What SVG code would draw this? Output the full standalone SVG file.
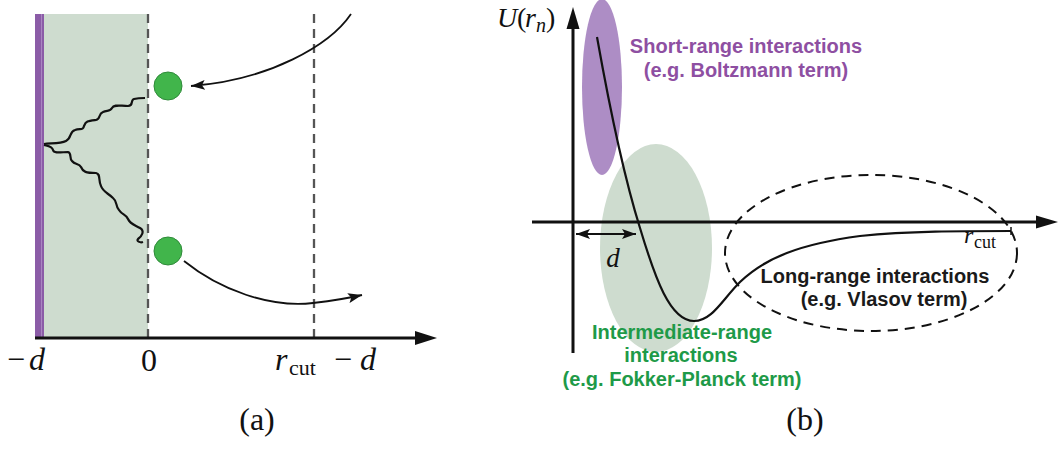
<svg xmlns="http://www.w3.org/2000/svg" width="1064" height="450" viewBox="0 0 1064 450">
<style>
.math{font-family:"Liberation Serif","DejaVu Serif",serif;fill:#111}
.it{font-style:italic}
.lbl{font-family:"Liberation Sans",Arial,sans-serif;font-weight:bold;font-size:20px;text-anchor:middle}
.dash{stroke:#555;stroke-width:2.3;stroke-dasharray:9,6;fill:none}
.ax{stroke:#111;stroke-width:3;fill:none}
.thin{stroke:#111;stroke-width:1.8;fill:none}
.wave{stroke:#111;stroke-width:2.2;fill:none;stroke-linejoin:round}
.ball{fill:#41b54b;stroke:#2f8a3a;stroke-width:1}
</style>
<defs>
<marker id="ah" viewBox="0 0 14 10" refX="14" refY="5" markerWidth="14" markerHeight="10" markerUnits="userSpaceOnUse" orient="auto"><path d="M0,0 L14,5 L0,10 L3,5 Z" fill="#111"/></marker>
<marker id="ahs" viewBox="0 0 14 10" refX="14" refY="5" markerWidth="14" markerHeight="10" markerUnits="userSpaceOnUse" orient="auto-start-reverse"><path d="M0,0 L14,5 L0,10 L3,5 Z" fill="#111"/></marker>
</defs>

<!-- Panel (a) -->
<g id="panel-a">
<g id="region">
<rect x="44" y="14" width="104" height="324" fill="#cedccf"/>
<rect x="35" y="14" width="9" height="324" fill="#8b5ca7"/>
<line x1="41.5" y1="14" x2="41.5" y2="338" stroke="#a985c1" stroke-width="1"/>
</g>
<g id="cutoffs">
<line class="dash" x1="148" y1="14" x2="148" y2="338"/>
<line class="dash" x1="314" y1="14" x2="314" y2="338"/>
</g>
<g id="axis-a">
<line class="ax" x1="35" y1="338" x2="418" y2="338"/>
<path d="M437,338 L415,331 L415,345 Z" fill="#111"/>
</g>
<g id="particle-top"><circle class="ball" cx="168" cy="86" r="14"/></g>
<g id="particle-bottom"><circle class="ball" cx="168" cy="251" r="14"/></g>
<g id="connectors-a">
<path class="thin" d="M351,14 C330,45 270,80 191,86" marker-end="url(#ah)"/>
<path class="thin" d="M184,261 C220,290 270,308 313,303 C330,301 345,299 362,295" marker-end="url(#ah)"/>
<path class="wave" d="M44,144 C50,143 60,144 66,141 C72,138 69,132 75,130 C80,128 83,131 84,126 C86,121 88,121 96,120 C101,119 98,114 103,112 C107,110 110,112 112,108 C114,104 120,106 128,106 C134,106 130,100 134,99 C138,98 141,98 145,98"/>
<path class="wave" d="M44,145 C48,146 52,146 53,150 C54,154 62,152 68,152 C72,153 69,158 72,161 C75,165 79,163 81,167 C83,172 86,173 96,173 C101,174 98,180 101,186 C103,192 108,193 113,198 C118,202 115,206 119,210 C122,215 126,214 128,219 C130,224 135,225 140,228 C145,231 142,236 138,239 C136,241 140,243 143,242"/>
</g>
<g id="labels-a" class="math" font-size="32">
<text x="7" y="370">−</text>
<text x="29" y="370" class="it">d</text>
<text x="149" y="371" text-anchor="middle">0</text>
<text x="275" y="370" class="it">r</text>
<text x="289" y="375" font-size="22">cut</text>
<text x="334" y="370">−</text>
<text x="360" y="370" class="it">d</text>
<text x="257" y="430" text-anchor="middle">(a)</text>
</g>
</g>

<!-- Panel (b) -->
<g id="panel-b">
<g id="short-range"><ellipse cx="602" cy="87" rx="20" ry="88" fill="#ad8dc5"/></g>
<g id="intermediate-range"><ellipse cx="656" cy="248" rx="56" ry="104" fill="#cedccf"/></g>
<g id="long-range"><ellipse cx="871" cy="253" rx="146" ry="78" fill="none" stroke="#111" stroke-width="2" stroke-dasharray="10,7"/></g>
<g id="axes-b">
<line class="ax" x1="573" y1="353" x2="573" y2="26"/>
<path d="M573,7 L566.5,29 L579.5,29 Z" fill="#111"/>
<line class="ax" x1="532" y1="222" x2="1040" y2="222"/>
<path d="M1058,222 L1036,215.5 L1036,228.5 Z" fill="#111"/>
</g>
<g id="connectors-b">
<path d="M597,37 C610,110 625,180 640,228 C655,278 670,321 694,321 C712,321 722,300 740,282 C765,258 800,244 860,236 C910,231 960,231 1011,231" fill="none" stroke="#111" stroke-width="2.2"/>
<line x1="1011" y1="227" x2="1011" y2="235" stroke="#111" stroke-width="1.5"/>
<line x1="576" y1="234" x2="636" y2="234" stroke="#111" stroke-width="2" marker-start="url(#ahs)" marker-end="url(#ah)"/>
</g>
<g id="labels-b" class="math" font-size="28">
<text x="497" y="27" class="it">U</text>
<text x="517" y="27">(</text>
<text x="525" y="27" class="it">r</text>
<text x="536" y="32" class="it" font-size="20">n</text>
<text x="546" y="27">)</text>
<text x="613" y="267" class="it" font-size="27" text-anchor="middle">d</text>
<text x="964" y="243" class="it" font-size="24">r</text>
<text x="974" y="248" font-size="18">cut</text>
<text x="805" y="430" font-size="32" text-anchor="middle">(b)</text>
</g>
<g id="texts-b" class="lbl">
<text x="746" y="53" fill="#8e4fa2">Short-range interactions</text>
<text x="746" y="77" fill="#8e4fa2">(e.g. Boltzmann term)</text>
<text x="875" y="283" fill="#1a1a1a">Long-range interactions</text>
<text x="884" y="306" fill="#1a1a1a">(e.g. Vlasov term)</text>
<text x="682" y="339" fill="#1e9a48">Intermediate-range</text>
<text x="681" y="362" fill="#1e9a48">interactions</text>
<text x="682" y="386" fill="#1e9a48">(e.g. Fokker-Planck term)</text>
</g>
</g>
</svg>
